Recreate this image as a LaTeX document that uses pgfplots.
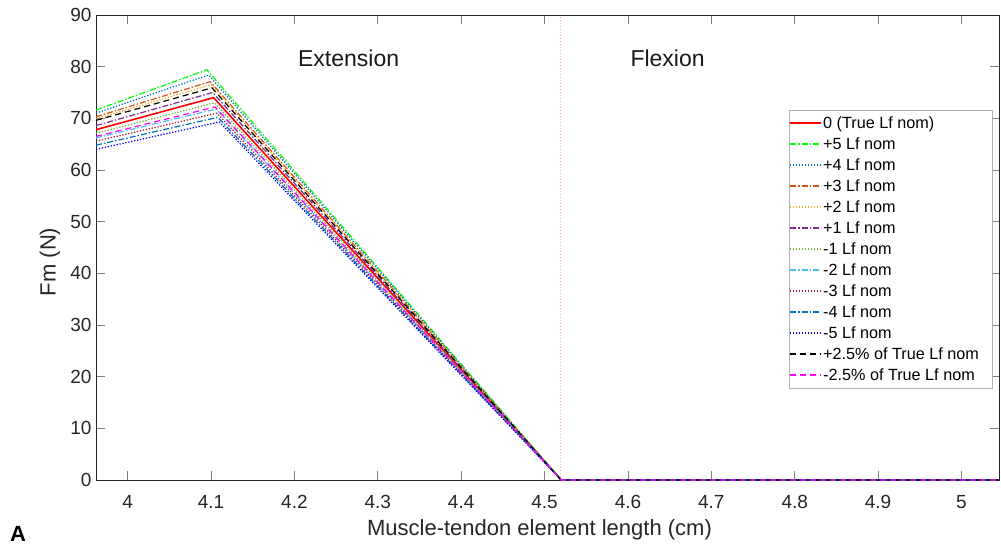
\documentclass[border=0pt]{standalone}
\usepackage{fontspec}
\setmainfont{Liberation Sans}
\usepackage{pgfplots}
\pgfplotsset{compat=1.18}
\definecolor{axgray}{rgb}{0.15,0.15,0.15}
\definecolor{cred}{rgb}{1,0,0}
\definecolor{cgreen}{rgb}{0,1,0}
\definecolor{cblue}{rgb}{0,0.447,0.741}
\definecolor{corange}{rgb}{0.85,0.325,0.098}
\definecolor{cyellow}{rgb}{0.929,0.694,0.125}
\definecolor{cpurple}{rgb}{0.494,0.184,0.556}
\definecolor{colive}{rgb}{0.466,0.674,0.188}
\definecolor{ccyan}{rgb}{0.301,0.745,0.933}
\definecolor{cmaroon}{rgb}{0.635,0.078,0.184}
\definecolor{cdblue}{rgb}{0,0,1}
\definecolor{cmag}{rgb}{1,0,1}
\definecolor{cpink}{rgb}{1,0.65,0.8}
\tikzset{
  mdashdot/.style={dash pattern=on 6pt off 2pt on 1.5pt off 2pt},
  mdotted/.style={dash pattern=on 1.3pt off 1.7pt},
  mdashed/.style={dash pattern=on 6pt off 4pt},
  s0/.style={color=cred, line width=1.6pt, solid},
  s5/.style={color=cgreen, line width=1.2pt, mdashdot},
  s4/.style={color=cblue, line width=1.2pt, mdotted},
  s3/.style={color=corange, line width=1.2pt, mdashdot},
  s2/.style={color=cyellow, line width=1.2pt, mdotted},
  s1/.style={color=cpurple, line width=1.2pt, mdashdot},
  sm1/.style={color=colive, line width=1.2pt, mdotted},
  sm2/.style={color=ccyan, line width=1.2pt, mdashdot},
  sm3/.style={color=cmaroon, line width=1.2pt, mdotted},
  sm4/.style={color=cblue, line width=1.2pt, mdashdot},
  sm5/.style={color=cdblue, line width=1.2pt, mdotted},
  spp/.style={color=black, line width=1.2pt, mdashed},
  smm/.style={color=cmag, line width=1.2pt, mdashed},
}
\newcommand\legrow[3]{%
  \draw[#2] (694pt,{357pt-#1*21pt}) -- ++(31pt,0pt);
  \node[anchor=base west, inner sep=0pt, text=black, font=\fontsize{16.2}{19}\selectfont]
    at (727pt,{351pt-#1*21pt}) {#3};}
\begin{document}
\begin{tikzpicture}
\useasboundingbox (-96pt,-68pt) rectangle (905pt,480pt);
\begin{axis}[
  name=ax, at={(0,0)}, anchor=south west,
  scale only axis, width=903pt, height=465pt,
  xmin=3.962, xmax=5.045, ymin=0, ymax=90,
  clip=false,
  xtick={4,4.1,4.2,4.3,4.4,4.5,4.6,4.7,4.8,4.9,5},
  xticklabels={4,4.1,4.2,4.3,4.4,4.5,4.6,4.7,4.8,4.9,5},
  ytick={0,10,20,30,40,50,60,70,80,90},
  yticklabels={0,10,20,30,40,50,60,70,80,90},
  tick align=inside, major tick length=9pt,
  axis line style={color=axgray, line width=0.8pt},
  tick style={color=gray, line width=0.8pt},
  ticklabel style={font=\fontsize{19}{22}\selectfont, text=black!85},
  xticklabel style={yshift=-12pt},
  yticklabel style={xshift=-1pt},
  /pgf/number format/assume math mode=true,
  xlabel={Muscle-tendon element length (cm)},
  ylabel={Fm (N)},
  label style={font=\fontsize{22}{26}\selectfont, text=black!85},
  xlabel style={at={(axis description cs:0.5,0)}, anchor=base, yshift=-56pt, xshift=-8pt},
  ylabel style={at={(axis description cs:-0.051,0.469)}, anchor=center},
]
\draw[cpink, line width=0.6pt, dash pattern=on 1pt off 2pt] (axis cs:4.519,0) -- (axis cs:4.519,90);
\addplot[s0] coordinates {(3.962,67.8) (4.103,74.0) (4.52,0) (5.045,0)};
\addplot[s5] coordinates {(3.962,71.6) (4.095,79.4) (4.52,0) (5.045,0)};
\addplot[s4] coordinates {(3.962,71.0) (4.097,78.4) (4.52,0) (5.045,0)};
\addplot[s3] coordinates {(3.962,70.3) (4.099,77.1) (4.52,0) (5.045,0)};
\addplot[s2] coordinates {(3.962,69.9) (4.100,76.5) (4.52,0) (5.045,0)};
\addplot[s1] coordinates {(3.962,68.6) (4.102,75.0) (4.52,0) (5.045,0)};
\addplot[sm1] coordinates {(3.962,67.1) (4.104,73.0) (4.52,0) (5.045,0)};
\addplot[sm2] coordinates {(3.962,66.2) (4.106,71.8) (4.52,0) (5.045,0)};
\addplot[sm3] coordinates {(3.962,65.6) (4.107,71.0) (4.52,0) (5.045,0)};
\addplot[sm4] coordinates {(3.962,64.8) (4.108,70.2) (4.52,0) (5.045,0)};
\addplot[sm5] coordinates {(3.962,64.0) (4.110,69.3) (4.52,0) (5.045,0)};
\addplot[spp] coordinates {(3.962,69.6) (4.101,75.9) (4.52,0) (5.045,0)};
\addplot[smm] coordinates {(3.962,66.5) (4.105,72.2) (4.52,0) (5.045,0)};
\node[anchor=base, font=\fontsize{23}{27}\selectfont, text=black!90] at (axis cs:4.265,80.1) {Extension};
\node[anchor=base, font=\fontsize{23}{27}\selectfont, text=black!90] at (axis cs:4.6475,80.1) {Flexion};
\end{axis}
% legend
\draw[gray!60, fill=white, line width=0.7pt] (693pt,92pt) rectangle (896pt,370pt);
\legrow{0}{s0}{0 (True Lf nom)}
\legrow{1}{s5}{+5 Lf nom}
\legrow{2}{s4}{+4 Lf nom}
\legrow{3}{s3}{+3 Lf nom}
\legrow{4}{s2}{+2 Lf nom}
\legrow{5}{s1}{+1 Lf nom}
\legrow{6}{sm1}{-1 Lf nom}
\legrow{7}{sm2}{-2 Lf nom}
\legrow{8}{sm3}{-3 Lf nom}
\legrow{9}{sm4}{-4 Lf nom}
\legrow{10}{sm5}{-5 Lf nom}
\legrow{11}{spp}{+2.5\% of True Lf nom}
\legrow{12}{smm}{-2.5\% of True Lf nom}
\node[anchor=base west, font=\bfseries\fontsize{22}{26}\selectfont, inner sep=0pt] at (-86pt,-62pt) {A};
\end{tikzpicture}
\end{document}
